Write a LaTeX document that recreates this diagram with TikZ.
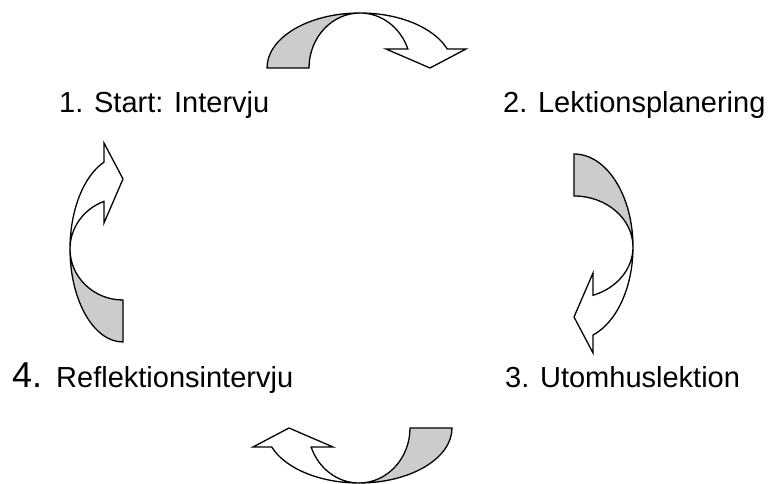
\documentclass[tikz,border=0pt]{standalone}
\usepackage{fontspec}
\setmainfont{Liberation Sans}

\tikzset{
  band/.style={draw=black, line width=1.3pt, line join=miter},
  backband/.style={band, fill=gray!40},
  frontband/.style={band, fill=white},
  steplabel/.style={anchor=base west, inner sep=0pt, font=\fontsize{29}{34}\selectfont},
}

% A curved block arrow in its own frame: the base sits on the x-axis at
% x = 0..42, the band bulges up to height #1 and ends in a head at x = 119..199.
\newcommand\curvedblockarrow[1]{%
  \pgfmathsetmacro\neckangle{asin(19/#1)}%
  \draw[backband] (0,0)
     arc[start angle=180, end angle=90, x radius=93, y radius=#1]
     arc[start angle=90, end angle=180, x radius=51, y radius=#1] -- cycle;
  \draw[frontband] (93,#1)
     arc[start angle=90, end angle=\neckangle, x radius=93, y radius=#1]
     -- (199,19) -- (163,0) -- (119,19) -- ({93+51*cos(\neckangle)},19)
     arc[start angle=\neckangle, end angle=90, x radius=51, y radius=#1] -- cycle;
}

\begin{document}
\begin{tikzpicture}[x=1pt, y=1pt]
  \useasboundingbox (0,0) rectangle (773,484);

  % step labels
  \node[steplabel] (start)    at (59,371.5)  {1. Start: Intervju};
  \node[steplabel] (planning) at (503,371.5) {2. Lektionsplanering};
  \node[steplabel] (outdoor)  at (505,96)    {3. Utomhuslektion};
  \node[steplabel] (reflect)  at (12,96)
    {{\fontsize{36}{40}\selectfont 4.}\hspace{14pt}Reflektionsintervju};

  % cycle arrows between the steps
  \begin{scope}[shift={(267,416)}]
    \curvedblockarrow{55}
  \end{scope}
  \begin{scope}[shift={(574,330)}, rotate=-90]
    \curvedblockarrow{59}
  \end{scope}
  \begin{scope}[shift={(452,56)}, rotate=180]
    \curvedblockarrow{55}
  \end{scope}
  \begin{scope}[shift={(123,142)}, rotate=90]
    \curvedblockarrow{53}
  \end{scope}
\end{tikzpicture}
\end{document}
